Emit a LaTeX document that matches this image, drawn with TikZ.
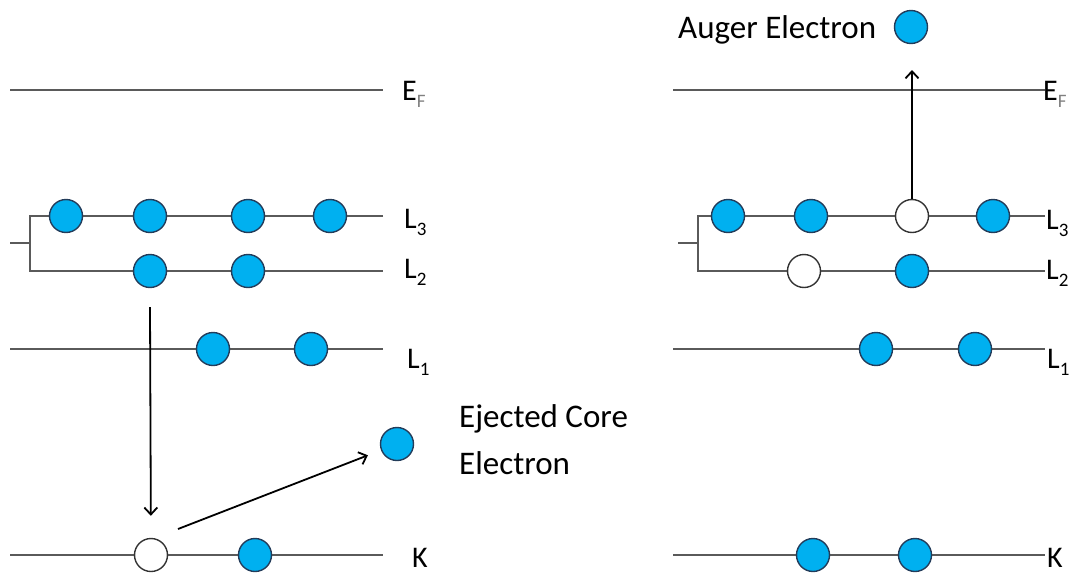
\documentclass[tikz,border=0pt]{standalone}
\usepackage{fontspec}
\setmainfont{Carlito}
\usetikzlibrary{arrows.meta}
\definecolor{elecblue}{RGB}{0,176,240}
\definecolor{rimblue}{RGB}{35,60,90}
\definecolor{levelgray}{RGB}{90,90,90}
\newcommand{\lvl}[2]{#1\raisebox{-0.25em}{\fontsize{19}{19}\selectfont #2}}

\begin{document}
\begin{tikzpicture}[x=1pt, y=-1pt,
    level/.style={levelgray, line width=1.6pt},
    elec/.style={circle, draw=rimblue, fill=elecblue, line width=1.4pt, minimum size=33pt, inner sep=0pt},
    hole/.style={circle, draw=black!80, fill=white, line width=1.4pt, minimum size=33pt, inner sep=0pt},
    arr/.style={-{Straight Barb[length=7pt, width=13pt]}, line width=1.8pt},
    lbl/.style={anchor=base west, inner sep=0pt, font=\fontsize{30}{30}\selectfont},
    txt/.style={anchor=base west, inner sep=0pt, font=\fontsize{33}{33}\selectfont}]

    \useasboundingbox (0,0) rectangle (1077,573);

    % before: core hole in K
    \draw[level] (10,90) -- (383,90);
    \draw[level] (383,216) -- (30,216) -- (30,271) -- (383,271);
    \draw[level] (10,243) -- (30,243);
    \draw[level] (10,349) -- (383,349);
    \draw[level] (10,555) -- (383,555);

    \node[lbl] (efleft) at (402,100) {\lvl{E}{\textcolor{gray}{F}}};
    \node[lbl] (lthreeleft) at (404,228) {\lvl{L}{3}};
    \node[lbl] (ltwoleft) at (404,278) {\lvl{L}{2}};
    \node[lbl] (loneleft) at (407,368) {\lvl{L}{1}};
    \node[lbl] (kleft) at (412,567) {K};

    \foreach \x [count=\i] in {66,150,248,330}
        \node[elec] (la\i) at (\x,216) {};
    \foreach \x [count=\i] in {150,248}
        \node[elec] (lb\i) at (\x,271) {};
    \foreach \x [count=\i] in {213,311}
        \node[elec] (lc\i) at (\x,349) {};
    \node[hole] (khole) at (151,555) {};
    \node[elec] (kelec) at (255,555) {};
    \node[elec] (ejected) at (397,444) {};

    \coordinate (fallstart) at (150,307);
    \coordinate (ejstart) at (178,529);
    \draw[arr, shorten >=22pt] (fallstart) -- (khole);
    \draw[arr, shorten >=14pt] (ejstart) -- (ejected);

    \node[txt] (ejtop) at (459,427) {Ejected Core};
    \node[txt] (ejbottom) at (459,474) {Electron};

    % after: Auger emission
    \draw[level] (673,90) -- (1045,90);
    \draw[level] (1045,216) -- (698,216) -- (698,271) -- (1045,271);
    \draw[level] (678,243) -- (698,243);
    \draw[level] (673,349) -- (1045,349);
    \draw[level] (673,555) -- (1045,555);

    \node[lbl] (efright) at (1043,100) {\lvl{E}{\textcolor{gray}{F}}};
    \node[lbl] (lthreeright) at (1046,229) {\lvl{L}{3}};
    \node[lbl] (ltworight) at (1046,279) {\lvl{L}{2}};
    \node[lbl] (loneright) at (1047,368) {\lvl{L}{1}};
    \node[lbl] (kright) at (1047,567) {K};

    \node[elec] (ra1) at (728,216) {};
    \node[elec] (ra2) at (811,216) {};
    \node[hole] (rahole) at (912,216) {};
    \node[elec] (ra4) at (993,216) {};
    \node[hole] (rbhole) at (804,271) {};
    \node[elec] (rb2) at (912,271) {};
    \node[elec] (rc1) at (876,349) {};
    \node[elec] (rc2) at (975,349) {};
    \node[elec] (rk1) at (813,555) {};
    \node[elec] (rk2) at (915,555) {};

    \node[elec] (auger) at (911,27) {};
    \node[txt] (augertext) at (678,38) {Auger Electron};

    \coordinate (augtip) at (912,70);
    \draw[arr] (rahole) -- (augtip);
\end{tikzpicture}
\end{document}
